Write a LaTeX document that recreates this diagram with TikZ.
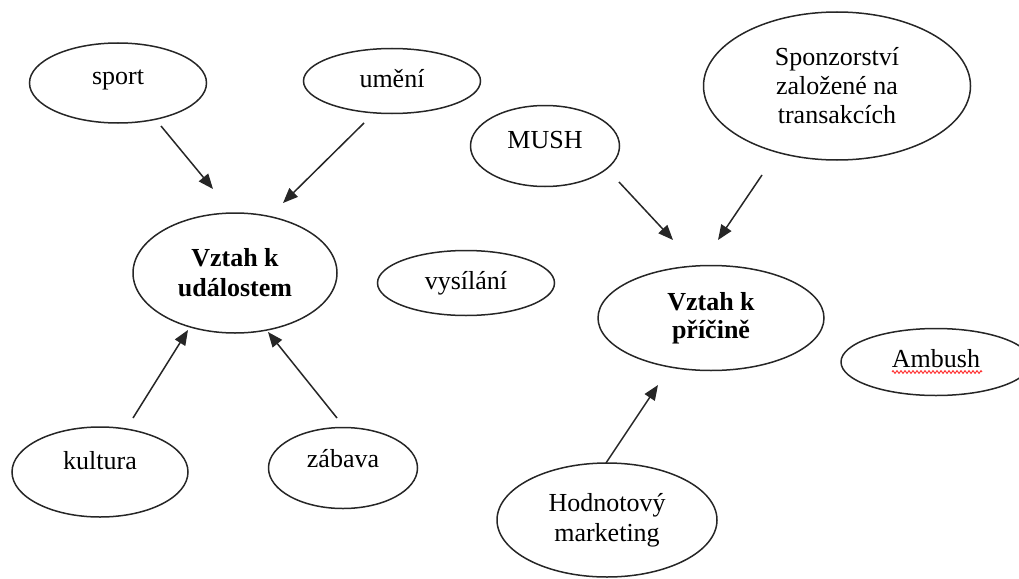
\documentclass[tikz,border=0pt]{standalone}
\usepackage{fontspec}
\setmainfont{Liberation Serif}
\usetikzlibrary{arrows.meta,shapes.geometric,decorations.pathmorphing}
\tikzset{
  >={Triangle[length=15pt,width=12pt]},
  every node/.style={font=\fontsize{26pt}{29pt}\selectfont},
  oval/.style={ellipse,draw=black!85,line width=1.5pt,inner sep=0pt,align=center},
  one/.style={text height=18pt,text depth=#1},
  one/.default=6pt,
  arr/.style={->,line width=1.5pt,black!85},
}
\begin{document}
\begin{tikzpicture}[x=1pt,y=-1pt]
  \useasboundingbox (0,0) rectangle (1019,578);
  % left group
  \node[oval,one=16pt,minimum width=177pt,minimum height=80pt] (sport) at (118,83) {sport};
  \node[oval,one,minimum width=177pt,minimum height=65pt] (umeni) at (392,81) {umění};
  \node[oval,minimum width=204pt,minimum height=120pt,font=\fontsize{26pt}{30pt}\selectfont\bfseries,yshift=-5pt] (udal) at (235,268) {Vztah k\\událostem};
  \node[oval,one=24pt,minimum width=176pt,minimum height=90pt] (kult) at (100,472) {kultura};
  \node[oval,one=19pt,minimum width=149pt,minimum height=81pt] (zabav) at (343,468) {zábava};
  \node[oval,one,minimum width=177pt,minimum height=65pt] (vysil) at (466,283) {vysílání};
  % right group
  \node[oval,one=13pt,minimum width=149pt,minimum height=81pt] (mush) at (545,146) {MUSH};
  \node[oval,minimum width=267pt,minimum height=148pt] (sponz) at (837,86) {Sponzorství\\založené na\\transakcích};
  \node[oval,minimum width=226pt,minimum height=105pt,font=\fontsize{26pt}{28pt}\selectfont\bfseries] (pricin) at (711,318) {Vztah k\\příčině};
  \node[oval,one=7pt,minimum width=190pt,minimum height=67pt] (amb) at (936,362) {Ambush};
  \node[oval,minimum width=220pt,minimum height=114pt,font=\fontsize{26pt}{30pt}\selectfont] (hodn) at (607,520) {Hodnotový\\marketing};
  % arrow ends
  \coordinate (sportA) at (161,126);  \coordinate (sportB) at (213,189);
  \coordinate (umeniA) at (364,123);  \coordinate (umeniB) at (283,203);
  \coordinate (kultA) at (133,418);   \coordinate (kultB) at (188,330);
  \coordinate (zabavA) at (337,418);  \coordinate (zabavB) at (268,332);
  \coordinate (mushA) at (619,182);   \coordinate (mushB) at (673,240);
  \coordinate (sponzA) at (762,175);  \coordinate (sponzB) at (718,240);
  \coordinate (hodnA) at (606,463);   \coordinate (hodnB) at (658,385);
  \foreach \n in {sport,umeni,kult,zabav,mush,sponz,hodn}
    \draw[arr] (\n A) -- (\n B);
  % spell-check squiggle
  \draw[red!85,line width=0.9pt,decorate,decoration={zigzag,segment length=4pt,amplitude=1.4pt}]
    ([shift={(-44,10)}]amb.center) -- ([shift={(46,10)}]amb.center);
\end{tikzpicture}
\end{document}
